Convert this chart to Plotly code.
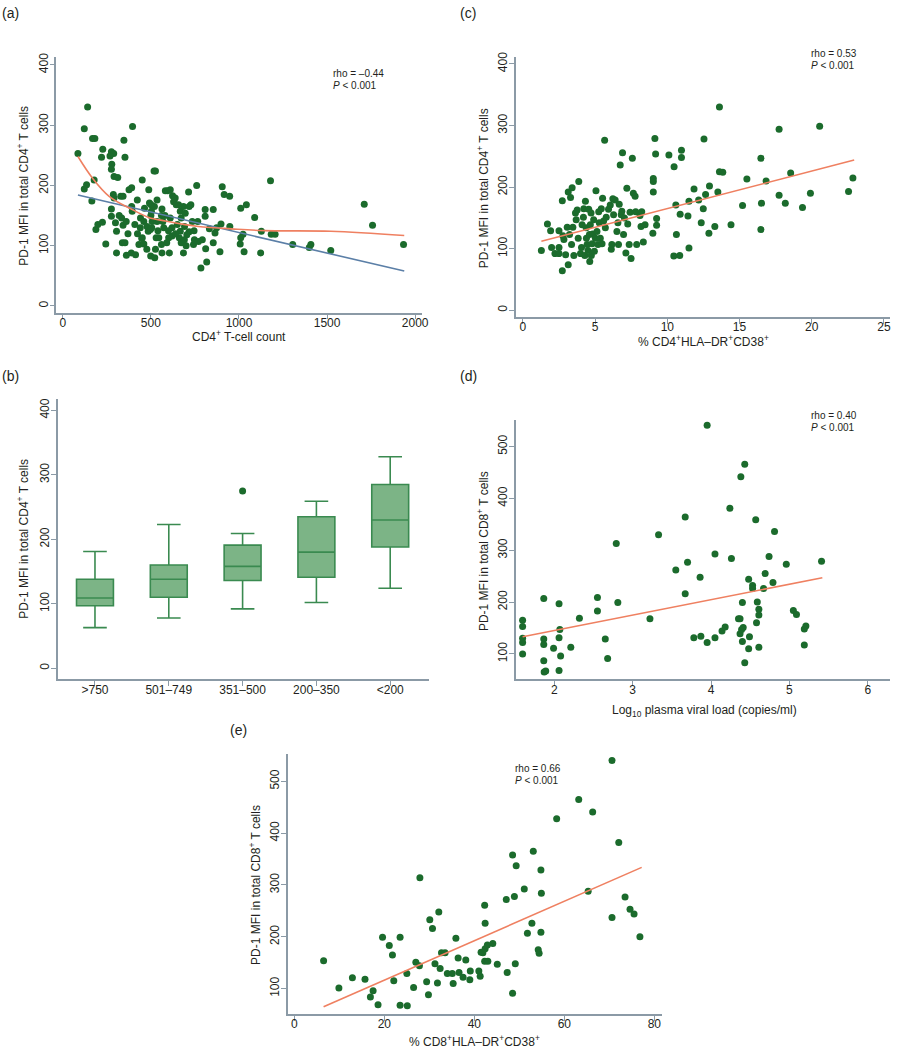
import plotly.graph_objects as go

# ---------------- data ----------------
# (a) PD-1 MFI (CD4) vs CD4 T-cell count
a_x = [86,141,122,122,135,169,182,165,178,188,199,227,220,225,244,276,289,268,278,276,
       291,312,287,291,276,276,299,305,305,347,353,329,342,334,342,338,353,361,376,391,
       391,394,389,396,409,423,413,432,451,441,451,464,477,488,485,499,518,526,492,501,
       503,507,522,526,535,535,530,545,563,560,563,573,582,595,605,601,620,610,623,629,
       644,657,667,672,667,661,672,685,691,714,717,727,717,704,742,747,760,766,770,784,
       792,808,808,817,811,832,854,854,864,873,892,898,905,916,947,948,1010,1042,1010,1007,
       1023,1029,1089,1127,1123,1179,1183,1205,1305,1399,1408,1521,1711,1758,1934,
       610,638,685,695,460,478,497,440,448,424,500,505,560,568,700,690,620,650,735,745,
       520,580,590,460,540,360,370,320,600,640]
a_y = [253,330,294,194,201,278,278,174,209,127,135,260,247,139,103,256,253,249,235,227,
       215,213,185,179,161,149,138,124,88,275,247,182,182,146,134,105,105,84,193,196,
       165,157,88,298,135,176,85,102,209,146,113,162,94,193,124,83,224,224,171,168,
       157,140,80,94,176,140,113,113,88,102,161,130,191,191,88,113,116,146,183,173,
       168,168,157,146,124,113,105,88,132,189,165,168,123,118,102,110,200,140,107,63,
       110,160,149,73,95,128,160,105,121,130,90,136,198,185,182,132,162,168,113,103,
       119,90,147,124,88,208,119,119,102,97,102,92,169,134,102,
       193,179,165,154,140,132,127,130,112,120,150,130,150,140,100,110,130,135,140,125,
       165,150,105,103,125,140,120,150,125,120]
a_lin_x = [86, 1938]
a_lin_y = [184, 58]
a_low_x = [86, 169, 263, 394, 488, 582, 695, 770, 958, 1146, 1521, 1938]
a_low_y = [248, 212, 182, 160, 147, 141, 135, 132, 128, 125, 124, 117]

# (b) box plot by CD4 count group
b_cats = [">750", "501–749", "351–500", "200–350", "<200"]
b_low = [63, 78, 92, 102, 124]
b_q1 = [97, 110, 136, 141, 188]
b_med = [109, 138, 158, 180, 230]
b_q3 = [138, 160, 191, 235, 285]
b_high = [181, 223, 209, 259, 328]
b_out_cat = ["351–500"]
b_out_val = [275]

# (c) PD-1 MFI (CD4) vs % CD4+HLA-DR+CD38+
c_x = [1.28,1.70,1.92,1.99,2.22,2.50,2.50,2.50,2.73,2.73,2.77,2.84,2.96,3.07,3.14,3.14,3.30,3.41,3.23,3.37,
       3.46,3.53,3.64,3.69,3.76,3.83,3.87,3.99,4.06,4.10,4.19,4.22,4.29,4.33,4.38,4.40,4.45,4.51,4.56,4.61,
       4.63,4.67,4.72,4.74,4.79,4.83,4.90,4.95,5.02,5.06,5.13,5.20,5.25,5.29,5.36,5.43,5.48,5.52,5.59,5.66,
       5.71,5.77,5.93,6.05,6.12,6.16,6.23,6.28,6.39,6.51,6.58,6.62,6.67,6.74,6.81,6.85,6.90,6.97,7.03,7.13,
       7.20,7.26,7.36,7.42,7.49,7.58,7.65,7.77,7.81,7.88,8.11,8.18,8.23,8.34,8.46,9.00,9.03,9.03,9.03,9.14,
       9.19,9.26,9.26,10.11,10.47,10.45,10.59,10.63,10.86,10.89,10.98,10.98,11.43,11.50,11.50,11.85,12.17,12.35,12.49,12.54,
       12.65,12.88,12.92,13.29,13.50,13.61,13.61,13.84,14.41,15.21,15.51,16.48,16.52,16.48,16.84,17.74,17.74,18.17,18.54,19.36,
       19.91,20.55,22.55,22.85]
c_y = [97,140,129,102,92,129,102,92,178,64,121,115,90,135,74,192,183,199,123,107,
       135,89,158,147,163,117,209,92,102,139,151,165,89,177,134,117,107,97,164,123,
       79,139,158,89,108,124,147,96,117,194,128,107,160,142,117,165,108,182,145,276,
       134,151,164,171,99,107,181,155,179,128,142,107,172,236,155,161,256,123,150,93,
       198,140,107,159,84,247,190,185,160,107,154,136,160,111,139,125,214,209,192,279,
       254,149,138,252,233,88,171,123,89,156,260,248,153,101,177,197,179,142,165,278,
       188,125,202,136,192,330,225,224,139,170,213,247,174,131,210,294,187,174,223,167,
       190,299,193,215]
c_fit_x = [1.28, 22.94]
c_fit_y = [112, 244]

# (d) PD-1 MFI (CD8) vs log10 viral load
d_x = [1.595,1.595,1.595,1.595,1.595,1.865,1.865,1.865,1.865,1.87,1.89,1.99,2.06,2.07,2.06,2.08,2.06,2.21,2.32,2.55,
       2.55,2.65,2.68,2.79,2.81,3.22,3.33,3.55,3.67,3.67,3.70,3.78,3.86,3.87,3.95,3.95,4.05,4.05,4.14,4.18,
       4.24,4.26,4.35,4.37,4.38,4.37,4.39,4.40,4.41,4.40,4.43,4.43,4.48,4.49,4.48,4.53,4.53,4.57,4.58,4.59,
       4.61,4.61,4.61,4.67,4.69,4.74,4.79,4.81,4.96,5.05,5.09,5.19,5.21,5.19,5.41]
d_y = [165,153,130,122,100,207,129,118,87,65,67,111,197,147,131,96,68,113,169,209,
       183,129,91,313,199,168,330,262,364,216,277,131,248,134,541,122,293,131,144,152,
       381,284,168,168,442,139,147,199,151,124,466,83,244,133,110,232,226,359,160,200,
       186,175,113,226,255,288,238,336,273,184,176,148,154,117,279]
d_fit_x = [1.595, 5.42]
d_fit_y = [133, 247]

# (e) PD-1 MFI (CD8) vs % CD8+HLA-DR+CD38+
e_x = [6.5,9.9,12.9,15.7,16.9,17.5,18.6,19.6,21.1,21.8,22.1,23.5,23.5,25.0,25.1,26.5,27.0,27.8,27.9,29.4,
       29.8,30.1,30.7,31.25,31.8,32.1,32.4,32.7,33.5,34.0,35.1,35.3,35.9,36.4,36.6,37.5,38.1,39.0,39.1,41.0,
       41.3,41.5,41.9,42.3,42.4,42.4,42.3,42.9,43.0,44.1,45.1,47.1,47.3,48.5,48.5,48.9,49.3,49.1,51.1,51.8,
       52.8,53.1,54.2,54.4,54.8,54.9,54.8,58.3,63.2,65.3,66.3,70.6,70.6,72.1,73.5,74.6,75.5,76.8]
e_y = [154,101,121,118,84,96,69,199,183,165,115,199,68,129,67,102,151,144,314,113,
       88,233,216,148,111,248,139,169,169,129,129,110,197,159,131,122,155,117,134,134,
       124,170,169,261,226,177,153,184,153,187,147,272,131,358,91,278,337,148,292,207,
       226,365,175,168,329,284,209,428,465,288,441,540,237,382,277,253,244,200]
e_fit_x = [6.5, 77.2]
e_fit_y = [65, 334]

# ---------------- styling ----------------
W, H = 899, 1050
FONT = "Liberation Sans, Arial, Helvetica, sans-serif"
TXT = "#231f20"
AX = "#8b9aa6"
PT = "#1b6b2c"
ORANGE = "#ef8061"
BLUE = "#5b7fa7"


def px(x):
    return x / W


def py(y):
    return 1 - y / H


fig = go.Figure()

def scatter(x, y, ax):
    fig.add_trace(go.Scatter(x=x, y=y, mode="markers", xaxis="x" + ax, yaxis="y" + ax,
                             marker=dict(color=PT, size=7, line=dict(width=0)),
                             showlegend=False, hoverinfo="skip"))

def line(x, y, ax, color, shape="linear"):
    fig.add_trace(go.Scatter(x=x, y=y, mode="lines", xaxis="x" + ax, yaxis="y" + ax,
                             line=dict(color=color, width=1.6, shape=shape),
                             showlegend=False, hoverinfo="skip"))

# (a)
scatter(a_x, a_y, "")
line(a_lin_x, a_lin_y, "", BLUE)
line(a_low_x, a_low_y, "", ORANGE, "spline")
# (b)
fig.add_trace(go.Box(x=b_cats, q1=b_q1, median=b_med, q3=b_q3, lowerfence=b_low, upperfence=b_high,
                     xaxis="x2", yaxis="y2", fillcolor="#7cb486", line=dict(color="#3a8a50", width=1.6),
                     width=0.5, whiskerwidth=0.64, boxpoints=False, showlegend=False, hoverinfo="skip"))
fig.add_trace(go.Scatter(x=b_out_cat, y=b_out_val, mode="markers", xaxis="x2", yaxis="y2",
                         marker=dict(color=PT, size=7), showlegend=False, hoverinfo="skip"))
# (c)
scatter(c_x, c_y, "3")
line(c_fit_x, c_fit_y, "3", ORANGE)
# (d)
scatter(d_x, d_y, "4")
line(d_fit_x, d_fit_y, "4", ORANGE)
# (e)
scatter(e_x, e_y, "5")
line(e_fit_x, e_fit_y, "5", ORANGE)


def axis(domain, rng, tickvals=None, vertical=False, cat=False):
    d = dict(domain=domain, range=rng, showline=True, linecolor=AX, linewidth=1.5,
             ticks="outside", ticklen=5, tickcolor=AX, tickwidth=1.3, showgrid=False, zeroline=False,
             tickfont=dict(family=FONT, size=12, color=TXT), fixedrange=True)
    if tickvals is not None:
        d["tickmode"] = "array"
        d["tickvals"] = tickvals
    if vertical:
        d["tickangle"] = -90
        d["ticklabelstandoff"] = -3
    else:
        d["ticklabelstandoff"] = -7
    if cat:
        d["type"] = "category"
    return d

yt400 = [0, 100, 200, 300, 400]
yt500 = [100, 200, 300, 400, 500]

layout = dict(
    width=W, height=H, margin=dict(l=0, r=0, t=0, b=0), autosize=False,
    paper_bgcolor="white", plot_bgcolor="white",
    font=dict(family=FONT, color=TXT),
    xaxis=axis([px(56.7), px(425)], [-37, 2037], [0, 500, 1000, 1500, 2000]),
    yaxis=axis([py(308.3), py(51.7)], [-10.9, 412.5], yt400, vertical=True),
    xaxis2=axis([px(58.3), px(432.7)], [-0.503, 4.53], cat=True),
    yaxis2=axis([py(677.3), py(395)], [-17.4, 418], yt400, vertical=True),
    xaxis3=axis([px(520), px(896.7)], [-0.48, 25.4], [0, 5, 10, 15, 20, 25]),
    yaxis3=axis([py(312.7), py(51.7)], [-10.8, 410.7], yt400, vertical=True),
    xaxis4=axis([px(520), px(896.7)], [1.51, 6.28], [2, 3, 4, 5, 6]),
    yaxis4=axis([py(677.3), py(416)], [50.8, 552], yt500, vertical=True),
    xaxis5=axis([px(290), px(666.7)], [-1.47, 81.6], [0, 20, 40, 60, 80]),
    yaxis5=axis([py(1014), py(752.7)], [50.6, 552], yt500, vertical=True),
)
layout["yaxis"]["anchor"] = "x"
layout["xaxis"]["anchor"] = "y"
for i in ["2", "3", "4", "5"]:
    layout["xaxis" + i]["anchor"] = "y" + i
    layout["yaxis" + i]["anchor"] = "x" + i
fig.update_layout(**layout)

ann = []

def text(x, y, s, size=12, xanchor="center", angle=0):
    ann.append(dict(x=px(x), y=py(y), xref="paper", yref="paper", text=s, showarrow=False,
                    xanchor=xanchor, yanchor="middle", textangle=angle,
                    font=dict(family=FONT, size=size, color=TXT)))

# panel labels
text(0, 7, "(a)", 14, "left")
text(462, 7, "(c)", 14, "left")
text(0, 372, "(b)", 14, "left")
text(462, 372, "(d)", 14, "left")
text(230, 728, "(e)", 14, "left")

# statistics
for (x, y1, rho) in [(334, 68, "rho = –0.44"), (815, 48, "rho = 0.53"),
                     (815, 412, "rho = 0.40"), (517, 767, "rho = 0.66")]:
    text(x, y1, rho, 10, "left")
    text(x, y1 + 12, "<i>P</i> < 0.001", 10, "left")

# axis titles
cd4 = "PD-1 MFI in total CD4<sup>+</sup> T cells"
cd8 = "PD-1 MFI in total CD8<sup>+</sup> T cells"
text(241, 332, "CD4<sup>+</sup> T-cell count")
text(23, 181, cd4, angle=-90)
text(709, 337, "% CD4<sup>+</sup>HLA–DR<sup>+</sup>CD38<sup>+</sup>")
text(487, 183, cd4, angle=-90)
text(23, 536, cd4, angle=-90)
text(710, 709, "Log<sub>10</sub> plasma viral load (copies/ml)")
text(487, 548, cd8, angle=-90)
text(478, 1041, "% CD8<sup>+</sup>HLA–DR<sup>+</sup>CD38<sup>+</sup>")
text(257, 884, cd8, angle=-90)

fig.update_layout(annotations=ann)
fig.write_html("out.html", config={"displayModeBar": False},
               post_script="document.body.style.margin='0';document.body.style.overflow='hidden';")
